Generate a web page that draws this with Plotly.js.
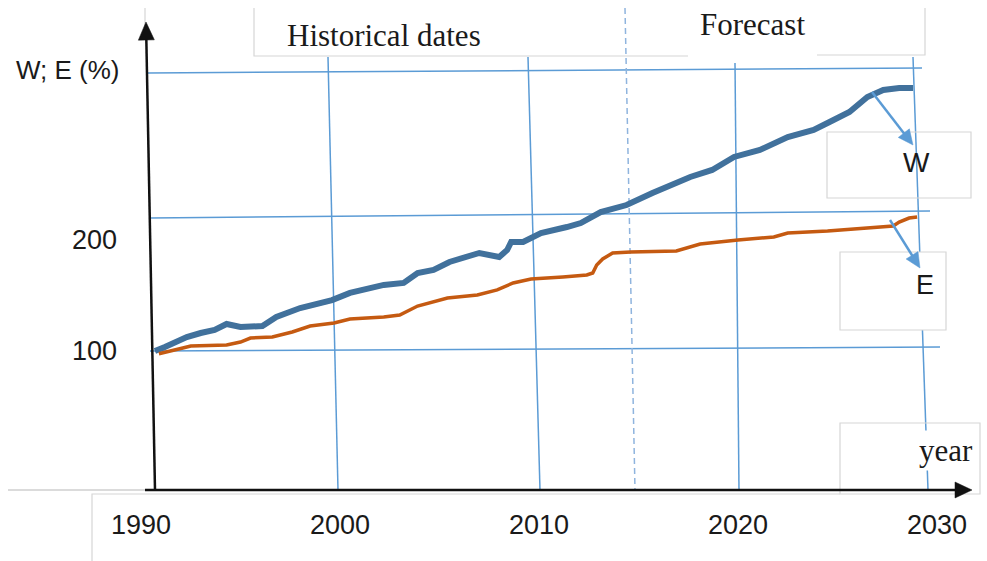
<!DOCTYPE html>
<html><head><meta charset="utf-8">
<script src="https://cdn.plot.ly/plotly-3.0.1.min.js"></script>
<style>html,body{margin:0;padding:0;background:#fff}#chart{width:987px;height:561px}</style>
</head><body><div id="chart"></div>
<script>
// ---- data ----
const wYears  = [1990.7,1991.2,1992.3,1993.0,1993.7,1994.3,1995.0,1996.1,1996.8,1998.0,1999.6,2000.5,2002.2,2003.2,2003.9,2004.7,2005.5,2007.0,2008.0,2008.4,2008.6,2009.2,2010.1,2011.4,2012.1,2013.1,2014.4,2015.7,2017.6,2018.7,2019.8,2021.1,2022.5,2023.8,2024.6,2025.6,2026.5,2027.3,2028.1,2028.8];
const wValues = [100,103.6,112.6,116.2,118.9,124.3,121.6,122.5,130.6,138.7,145.9,152.3,159.5,161.3,170.3,173.0,180.2,188.3,184.7,191.0,198.2,198.2,206.3,211.7,215.3,225.2,231.5,242.3,256.8,263.1,274.8,281.1,292.8,299.1,306.3,315.3,328.8,335.1,336.9,336.9];
const eYears  = [1990.9,1992.1,1992.5,1994.3,1995.0,1995.5,1996.6,1997.6,1998.5,1999.7,2000.5,2002.2,2003.0,2003.9,2005.4,2006.9,2007.9,2008.7,2009.6,2011.2,2012.4,2012.7,2012.9,2013.2,2013.7,2014.6,2016.9,2018.1,2020.0,2021.8,2022.5,2024.5,2027.8,2028.1,2028.6,2029.0];
const eValues = [97.5,102.7,104.5,105.4,108.1,111.7,112.6,117.1,122.5,125.2,128.8,130.6,132.4,140.5,147.7,150.5,155.0,161.3,164.9,166.7,168.5,170.3,177.5,182.9,188.3,189.2,190.1,196.4,200.0,202.7,206.3,208.1,212.6,216.2,219.8,220.7];
const xTickYears = [1990,2000,2010,2020,2030];
const xTickText  = ['1990','2000','2010','2020','2030'];
const yTickValues = [100,200];
const yTickText   = ['100','200'];

// ---- layout helpers ----
const FW=987, FH=561, M={l:130,r:10,t:20,b:71};
const PW=FW-M.l-M.r, PH=FH-M.t-M.b;
const px = x => (x-M.l)/PW;
const py = y => (FH-M.b-y)/PH;
const GRID='#5b9bd5', BOX='#d6d6d6';

function seg(x0,y0,x1,y1,color,width,dash,layer){
  return {type:'line',xref:'paper',yref:'paper',x0:px(x0),y0:py(y0),x1:px(x1),y1:py(y1),
    line:{color:color,width:width,dash:dash||'solid'},layer:layer||'below'};
}
function poly(pts,color,width,fill,layer,close){
  let p='M'+pts.map(q=>px(q[0]).toFixed(5)+','+py(q[1]).toFixed(5)).join(' L')+(close?' Z':'');
  return {type:'path',xref:'paper',yref:'paper',path:p,line:{color:color,width:width},
    fillcolor:fill||'rgba(0,0,0,0)',layer:layer||'below'};
}
function arrow(x0,y0,x1,y1,color,width,len,half,layer){
  const dx=x1-x0, dy=y1-y0, d=Math.hypot(dx,dy), ux=dx/d, uy=dy/d;
  const bx=x1-ux*len, by=y1-uy*len, nx=-uy, ny=ux;
  return [seg(x0,y0,bx+ux*2,by+uy*2,color,width,'solid',layer),
    poly([[x1,y1],[bx+nx*half,by+ny*half],[bx-nx*half,by-ny*half]],color,0.5,color,layer,true)];
}

const shapes = [
  // horizontal grid
  seg(148,73,922,68,GRID,1.5), seg(150,218,930,211,GRID,1.5), seg(150,351,940,347,GRID,1.5),
  // vertical grid
  seg(328,57,338,490,GRID,1.5), seg(528,57,540,490,GRID,1.5),
  seg(735,63,739,490,GRID,1.5), seg(913,57,928,490,GRID,1.5),
  seg(625,8,635,490,'#8fb4de',1.5,'6px,4px'),
  // text boxes (light grey)
  poly([[254,8],[254,56],[688,56]],BOX,1.2),
  poly([[817,55],[925,55],[925,8]],BOX,1.2),
  seg(145,8,145,26,BOX,1.2),
  poly([[827,132],[971,132],[971,198],[827,198]],BOX,1.2,null,'below',true),
  poly([[840,252],[946,252],[946,330],[840,330]],BOX,1.2,'#ffffff','above',true),
  poly([[840,423],[980,423],[980,494],[840,494]],BOX,1.2,null,'below',true),
  poly([[92,561],[92,494],[840,494]],BOX,1.2),
  seg(8,490,150,490,'#cfcfcf',1.5),
];
shapes.push(...arrow(155,490,146,22,'#111111',2.5,18,8,'above'));
shapes.push(...arrow(145,490,972,490,'#111111',2.5,17,8,'above'));
shapes.push(...arrow(872,92,913,145,GRID,2.5,15,7,'above'));
shapes.push(...arrow(890,220,920,268,GRID,2.5,15,7,'above'));

const SANS='"Liberation Sans", Arial, sans-serif', SERIF='"Liberation Serif", "Times New Roman", serif';
function txt(t,x,y,font,size,extra){
  return Object.assign({text:t,xref:'paper',yref:'paper',x:px(x),y:py(y),xanchor:'center',yanchor:'middle',
    showarrow:false,font:{family:font,size:size,color:'#1a1a1a'}},extra||{});
}
const annotations = [
  txt('W; E (%)',68,70,SANS,26),
  txt('Historical dates',384,35,SERIF,31),
  txt('Forecast',752,25,SERIF,31),
  txt('year',946,450,SERIF,31,{bgcolor:'#ffffff',borderpad:2}),
  txt('W',916,162,SANS,28),
  txt('E',925,285,SANS,27),
];

const traces = [
  {x:wYears,y:wValues,type:'scatter',mode:'lines',name:'W',line:{color:'#41719c',width:6,simplify:false}},
  {x:eYears,y:eValues,type:'scatter',mode:'lines',name:'E',line:{color:'#c55a11',width:3.5,simplify:false}},
];

const layout = {
  width:FW,height:FH,margin:M,paper_bgcolor:'#fff',plot_bgcolor:'rgba(0,0,0,0)',showlegend:false,
  xaxis:{range:[1989.447,2032.01],tickvals:xTickYears,ticktext:xTickText,showgrid:false,zeroline:false,
    showline:false,ticks:'',ticklabelstandoff:16,tickfont:{family:SANS,size:27,color:'#1a1a1a'}},
  yaxis:{range:[-25.23,398.2],tickvals:yTickValues,ticktext:yTickText,showgrid:false,zeroline:false,
    showline:false,ticks:'',ticklabelstandoff:12,tickfont:{family:SANS,size:27,color:'#1a1a1a'}},
  shapes:shapes,annotations:annotations
};
Plotly.newPlot('chart',traces,layout,{staticPlot:true,displayModeBar:false});
</script></body></html>
